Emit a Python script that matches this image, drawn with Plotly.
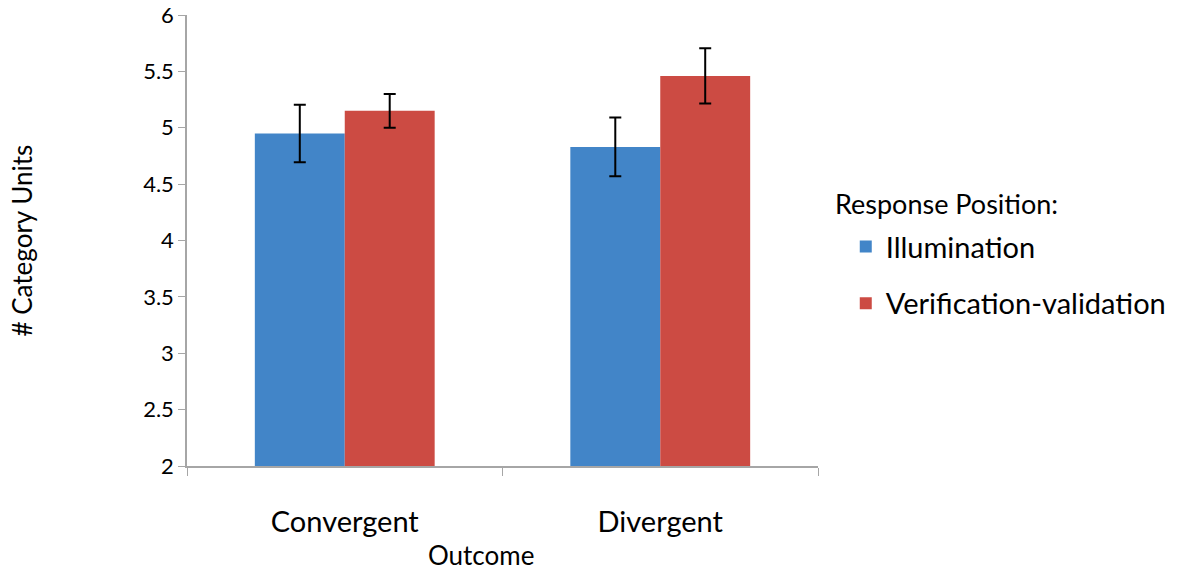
import plotly.graph_objects as go

categories = ["Convergent", "Divergent"]
illumination = [4.95, 4.83]
illumination_err = [0.255, 0.26]
verification = [5.15, 5.46]
verification_err = [0.15, 0.245]
series_names = ["Illumination", "Verification-validation"]
y_ticks = [2, 2.5, 3, 3.5, 4, 4.5, 5, 5.5, 6]

FONT = "Lato, Open Sans, sans-serif"

fig = go.Figure()
fig.add_trace(go.Bar(
    x=categories, y=illumination, name=series_names[0],
    marker=dict(color="#4285c8", line=dict(width=0)),
    error_y=dict(type="data", array=illumination_err, color="black", thickness=2, width=6),
    legendgroup="a",
))
fig.add_trace(go.Bar(
    x=categories, y=verification, name=series_names[1],
    marker=dict(color="#cc4b43", line=dict(width=0)),
    error_y=dict(type="data", array=verification_err, color="black", thickness=2, width=6),
    legendgroup="b",
))

fig.update_layout(
    width=1180, height=573,
    margin=dict(l=187, r=362, t=15, b=107, autoexpand=False),
    plot_bgcolor="white", paper_bgcolor="white",
    barmode="group", bargap=0.43, bargroupgap=0,
    font=dict(family=FONT, color="black"),
    showlegend=True,
    legend=dict(
        font=dict(size=29),
        x=1.044, xanchor="left", y=0.543, yanchor="top",
        traceorder="grouped", tracegroupgap=16,
        itemsizing="constant",
    ),
    xaxis=dict(
        showline=True, linecolor="#a6a6a6", linewidth=1.5,
        ticks="outside", tickson="boundaries", ticklen=8, tickcolor="#a6a6a6",
        tickfont=dict(size=29), showgrid=False, automargin=False,
        ticklabelstandoff=29,
    ),
    yaxis=dict(
        range=[2, 6], tickvals=y_ticks, ticktext=[str(t) for t in y_ticks],
        showline=True, linecolor="#a6a6a6", linewidth=1.5,
        ticks="outside", ticklen=7, tickcolor="#a6a6a6",
        tickfont=dict(size=22), showgrid=False, zeroline=False, automargin=False,
        ticklabeloverflow="allow",
    ),
    annotations=[
        dict(text="Outcome", xref="paper", yref="paper", x=0.466, y=-0.197,
             xanchor="center", yanchor="middle", showarrow=False, font=dict(size=26)),
        dict(text="# Category Units", xref="paper", yref="paper", x=-0.2615, y=0.5,
             xanchor="center", yanchor="middle", textangle=-90, showarrow=False,
             font=dict(size=26)),
        dict(text="Response Position:", xref="paper", yref="paper", x=1.024, y=0.583,
             xanchor="left", yanchor="middle", showarrow=False, font=dict(size=27)),
    ],
)

# remove the default 8px page margin so the figure fills the window exactly
fig.write_html("out.html", config={"displayModeBar": False},
               post_script="document.body.style.margin='0px';")
